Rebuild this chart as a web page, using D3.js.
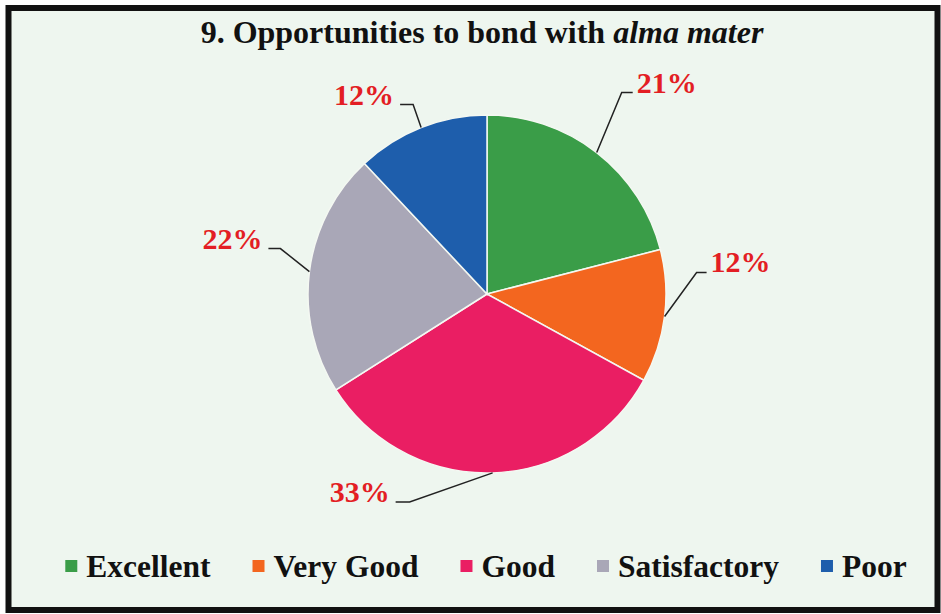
<!DOCTYPE html>
<html>
<head>
<meta charset="utf-8">
<script src="https://cdn.jsdelivr.net/npm/d3@7"></script>
<style>
  body { margin: 0; background: #ffffff; }
  svg { display: block; }
</style>
</head>
<body>
<div id="chart-container"></div>
<script>
// data
const categories = ["Excellent", "Very Good", "Good", "Satisfactory", "Poor"];
const percents = [21, 12, 33, 22, 12];
const sliceColors = ["#3a9d48", "#f3661f", "#ea1e63", "#a9a7b7", "#1e5eac"];

// leader line elbows, relative to the point on the pie edge (layout only)
const elbowOffsets = [[25, -60], [32, -44], [-83, 29], [-29, -23], [-8, -23]];
const tailLengths = [11, 10, -14, -12, -13];

const width = 941;
const height = 614;
const cx = 487, cy = 294, radius = 179;
const serif = "'Liberation Serif', 'Times New Roman', serif";

const svg = d3.select("#chart-container").append("svg")
  .attr("width", width)
  .attr("height", height);

// background + black frame
svg.append("rect")
  .attr("x", 8.5).attr("y", 8)
  .attr("width", 929).attr("height", 602)
  .attr("fill", "#eef6ef")
  .attr("stroke", "#111")
  .attr("stroke-width", 6);

// title, with alma mater in italics
const title = svg.append("text")
  .attr("x", 482).attr("y", 43)
  .attr("text-anchor", "middle")
  .style("font-family", serif)
  .style("font-weight", "bold")
  .style("font-size", "32px")
  .attr("fill", "#111");
title.append("tspan").text("9. Opportunities to bond with ");
title.append("tspan").style("font-style", "italic").text("alma mater");

// pie layout, clockwise from 12 o'clock
const pie = d3.pie().sort(null).value(d => d);
const arcs = pie(percents);
const arc = d3.arc().innerRadius(0).outerRadius(radius);

const g = svg.append("g").attr("transform", `translate(${cx},${cy})`);

g.selectAll(".slice")
  .data(arcs)
  .enter().append("path")
    .attr("class", "slice")
    .attr("d", arc)
    .attr("fill", (d, i) => sliceColors[i])
    .attr("stroke", "#f4f8f2")
    .attr("stroke-width", 1.5);

// leader lines + percent labels
arcs.forEach(function(d, i) {
  const mid = (d.startAngle + d.endAngle) / 2;
  const ex = radius * Math.sin(mid);
  const ey = -radius * Math.cos(mid);
  const bx = ex + elbowOffsets[i][0];
  const by = ey + elbowOffsets[i][1];
  const tx = bx + tailLengths[i];

  g.append("polyline")
    .attr("points", `${ex},${ey} ${bx},${by} ${tx},${by}`)
    .attr("fill", "none")
    .attr("stroke", "#222")
    .attr("stroke-width", 1.5);

  const right = tailLengths[i] > 0;
  g.append("text")
    .attr("x", right ? tx + 4 : tx - 6)
    .attr("y", by)
    .attr("text-anchor", right ? "start" : "end")
    .style("font-family", serif)
    .style("font-weight", "bold")
    .style("font-size", "30px")
    .attr("fill", "#e31e24")
    .text(percents[i] + "%");
});

// legend, centred across the bottom
const legend = svg.append("g");
const items = legend.selectAll(".legend-item")
  .data(categories)
  .enter().append("g")
    .attr("class", "legend-item");

items.append("rect")
  .attr("width", 12).attr("height", 12)
  .attr("y", 560)
  .attr("fill", (d, i) => sliceColors[i]);

items.append("text")
  .attr("x", 21)
  .attr("y", 577)
  .style("font-family", serif)
  .style("font-weight", "bold")
  .style("font-size", "31.5px")
  .attr("fill", "#111")
  .text(d => d);

// measure and place each item
let widths = [];
items.each(function() {
  widths.push(21 + d3.select(this).select("text").node().getComputedTextLength());
});
const gap = 42;
const total = d3.sum(widths) + gap * (widths.length - 1);
let xPos = 486 - total / 2;
items.attr("transform", function(d, i) {
  const t = `translate(${xPos},0)`;
  xPos += widths[i] + gap;
  return t;
});
</script>
</body>
</html>
